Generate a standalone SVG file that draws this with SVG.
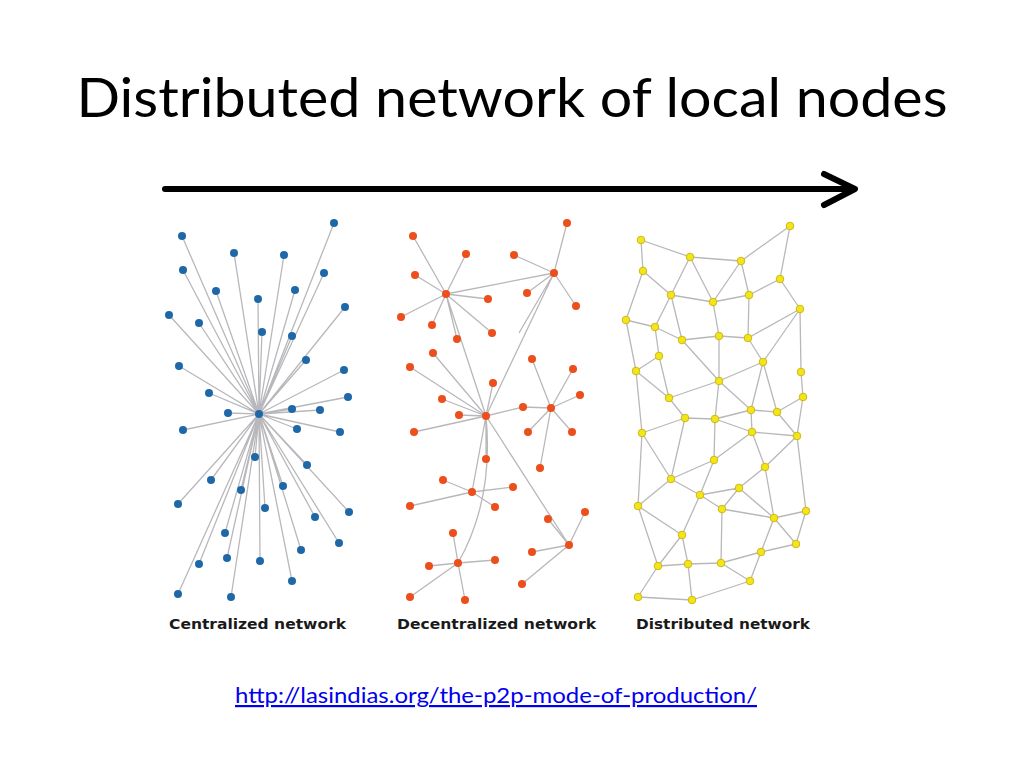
<svg xmlns="http://www.w3.org/2000/svg" width="1024" height="768" viewBox="0 0 1024 768">
<style>
.title{font-family:Lato,"Open Sans","Liberation Sans",sans-serif;font-size:54px;fill:#000}
.lbl{font-family:"DejaVu Sans",Verdana,sans-serif;font-size:13.5px;font-weight:bold;fill:#1a1a1a}
.url{font-family:Lato,"Open Sans","Liberation Sans",sans-serif;font-size:22px;fill:#0000ee;text-decoration:underline}
.e{stroke:#b8b8bc;stroke-width:1.3;fill:none}
.b{fill:#1f68a8}
.o{fill:#ec4e1c}
.y{fill:#f3e51c;stroke:#c9b30a;stroke-width:0.9}
</style>
<rect width="1024" height="768" fill="#fff"/>
<text class="title" x="512" y="117" text-anchor="middle" textLength="871" lengthAdjust="spacingAndGlyphs">Distributed network of local nodes</text>
<g id="progress-arrow" stroke="#000" stroke-width="6" fill="none" stroke-linecap="round" stroke-linejoin="round">
<line x1="165" y1="189" x2="853" y2="189"/>
<polyline points="824,174 855,189 824,205"/>
</g>
<g id="connectors">
<g id="central-edges" class="e">
<path d="M259,414L182,236M259,414L234,253M259,414L284,255M259,414L334,223M259,414L183,270M259,414L324,273M259,414L216,291M259,414L295,290M259,414L258,299M259,414L345,307M259,414L169,315M259,414L199,323M259,414L262,332M259,414L292,336M259,414L306,360M259,414L179,366M259,414L344,370M259,414L209,393M259,414L348,397M259,414L228,413M259,414L292,409M259,414L320,410M259,414L183,430M259,414L297,429M259,414L340,432M259,414L255,457M259,414L307,465M259,414L211,480M259,414L241,490M259,414L283,486M259,414L178,504M259,414L265,508M259,414L315,517M259,414L349,512M259,414L225,533M259,414L339,543M259,414L227,558M259,414L301,550M259,414L199,564M259,414L260,561M259,414L292,581M259,414L178,594M259,414L231,597"/>
</g>
<g id="decentral-edges" class="e">
<path d="M446,294L413,236M446,294L466,254M446,294L415,275M446,294L488,299M446,294L401,317M446,294L432,325M446,294L492,333M446,294L457,339M446,294L486,416M446,294L554,273"/>
<path d="M554,273L514,255M554,273L567,223M554,273L527,293M554,273L576,306M554,273L519,333M554,273L486,416"/>
<path d="M486,416L433,353M486,416L410,367M486,416L493,383M486,416L442,399M486,416L459,415M486,416L414,432M486,416L523,407L551,408M486,416L486,459M486,416L472,492M486,416L569,545M486,416Q494,500 458,563"/>
<path d="M551,408L532,359M551,408L573,369M551,408L580,395M551,408L528,432M551,408L572,432M551,408L540,468"/>
<path d="M472,492L443,480M472,492L513,487M472,492L410,506M472,492L495,507"/>
<path d="M569,545L548,519M569,545L585,512M569,545L532,552M569,545L522,584"/>
<path d="M458,563L453,533M458,563L429,566M458,563L495,560M458,563L410,597M458,563L465,600"/>
</g>
<g id="distributed-edges" class="e">
<path d="M641,240L690,257M641,240L643,271M690,257L741,261M690,257L671,295M690,257L713,302M741,261L713,302M741,261L749,295M741,261L790,226M790,226L780,279M643,271L671,295M643,271L626,320M780,279L749,295M780,279L800,309M671,295L713,302M671,295L655,327M671,295L682,340M713,302L749,295M713,302L719,336M749,295L748,338M626,320L655,327M626,320L636,371M655,327L682,340M655,327L659,356M682,340L719,336M682,340L719,381M719,336L748,338M719,336L719,381M748,338L800,309M748,338L763,362M800,309L763,362M800,309L801,372M659,356L636,371M659,356L669,398M636,371L669,398M636,371L642,433M763,362L719,381M763,362L751,410M763,362L777,412M801,372L803,397M719,381L669,398M719,381L715,419M719,381L751,410M669,398L685,418M803,397L777,412M803,397L797,436M751,410L777,412M751,410L752,432M777,412L797,436"/>
<path d="M685,418L715,419M715,419L751,410M715,419L752,432M715,419L714,460M752,432L797,436M752,432L714,460M752,432L765,467M642,433L685,418M642,433L671,479M685,418L671,479M714,460L671,479M714,460L700,495M671,479L700,495M671,479L638,506M700,495L739,488M700,495L722,509M700,495L682,535M739,488L765,467M739,488L722,509M739,488L774,518M765,467L797,436M765,467L774,518M797,436L806,511M722,509L774,518M722,509L721,563M774,518L806,511M774,518L796,544M774,518L761,552M806,511L796,544M796,544L761,552M761,552L750,581M761,552L721,563M721,563L750,581M721,563L688,564M688,564L658,566M688,564L682,535M688,564L692,600M658,566L682,535M658,566L638,506M658,566L638,597M638,506L682,535M638,506L642,433M638,597L692,600M692,600L750,581"/>
</g>
</g>
<g id="centralized-network">
<g id="c0"><circle class="b" cx="259" cy="414" r="4"/></g>
<g id="c1"><circle class="b" cx="182" cy="236" r="4"/></g>
<g id="c2"><circle class="b" cx="234" cy="253" r="4"/></g>
<g id="c3"><circle class="b" cx="284" cy="255" r="4"/></g>
<g id="c4"><circle class="b" cx="334" cy="223" r="4"/></g>
<g id="c5"><circle class="b" cx="183" cy="270" r="4"/></g>
<g id="c6"><circle class="b" cx="324" cy="273" r="4"/></g>
<g id="c7"><circle class="b" cx="216" cy="291" r="4"/></g>
<g id="c8"><circle class="b" cx="295" cy="290" r="4"/></g>
<g id="c9"><circle class="b" cx="258" cy="299" r="4"/></g>
<g id="c10"><circle class="b" cx="345" cy="307" r="4"/></g>
<g id="c11"><circle class="b" cx="169" cy="315" r="4"/></g>
<g id="c12"><circle class="b" cx="199" cy="323" r="4"/></g>
<g id="c13"><circle class="b" cx="262" cy="332" r="4"/></g>
<g id="c14"><circle class="b" cx="292" cy="336" r="4"/></g>
<g id="c15"><circle class="b" cx="306" cy="360" r="4"/></g>
<g id="c16"><circle class="b" cx="179" cy="366" r="4"/></g>
<g id="c17"><circle class="b" cx="344" cy="370" r="4"/></g>
<g id="c18"><circle class="b" cx="209" cy="393" r="4"/></g>
<g id="c19"><circle class="b" cx="348" cy="397" r="4"/></g>
<g id="c20"><circle class="b" cx="228" cy="413" r="4"/></g>
<g id="c21"><circle class="b" cx="292" cy="409" r="4"/></g>
<g id="c22"><circle class="b" cx="320" cy="410" r="4"/></g>
<g id="c23"><circle class="b" cx="183" cy="430" r="4"/></g>
<g id="c24"><circle class="b" cx="297" cy="429" r="4"/></g>
<g id="c25"><circle class="b" cx="340" cy="432" r="4"/></g>
<g id="c26"><circle class="b" cx="255" cy="457" r="4"/></g>
<g id="c27"><circle class="b" cx="307" cy="465" r="4"/></g>
<g id="c28"><circle class="b" cx="211" cy="480" r="4"/></g>
<g id="c29"><circle class="b" cx="241" cy="490" r="4"/></g>
<g id="c30"><circle class="b" cx="283" cy="486" r="4"/></g>
<g id="c31"><circle class="b" cx="178" cy="504" r="4"/></g>
<g id="c32"><circle class="b" cx="265" cy="508" r="4"/></g>
<g id="c33"><circle class="b" cx="315" cy="517" r="4"/></g>
<g id="c34"><circle class="b" cx="349" cy="512" r="4"/></g>
<g id="c35"><circle class="b" cx="225" cy="533" r="4"/></g>
<g id="c36"><circle class="b" cx="339" cy="543" r="4"/></g>
<g id="c37"><circle class="b" cx="227" cy="558" r="4"/></g>
<g id="c38"><circle class="b" cx="301" cy="550" r="4"/></g>
<g id="c39"><circle class="b" cx="199" cy="564" r="4"/></g>
<g id="c40"><circle class="b" cx="260" cy="561" r="4"/></g>
<g id="c41"><circle class="b" cx="292" cy="581" r="4"/></g>
<g id="c42"><circle class="b" cx="178" cy="594" r="4"/></g>
<g id="c43"><circle class="b" cx="231" cy="597" r="4"/></g>
</g>
<g id="decentralized-network">
<g id="dh1"><circle class="o" cx="446" cy="294" r="4"/></g>
<g id="dh2"><circle class="o" cx="554" cy="273" r="4"/></g>
<g id="dh3"><circle class="o" cx="486" cy="416" r="4"/></g>
<g id="dh4"><circle class="o" cx="551" cy="408" r="4"/></g>
<g id="dh5"><circle class="o" cx="472" cy="492" r="4"/></g>
<g id="dh6"><circle class="o" cx="569" cy="545" r="4"/></g>
<g id="dh7"><circle class="o" cx="458" cy="563" r="4"/></g>
<g id="d1"><circle class="o" cx="413" cy="236" r="4"/></g>
<g id="d2"><circle class="o" cx="466" cy="254" r="4"/></g>
<g id="d3"><circle class="o" cx="514" cy="255" r="4"/></g>
<g id="d4"><circle class="o" cx="567" cy="223" r="4"/></g>
<g id="d5"><circle class="o" cx="415" cy="275" r="4"/></g>
<g id="d6"><circle class="o" cx="488" cy="299" r="4"/></g>
<g id="d7"><circle class="o" cx="527" cy="293" r="4"/></g>
<g id="d8"><circle class="o" cx="576" cy="306" r="4"/></g>
<g id="d9"><circle class="o" cx="401" cy="317" r="4"/></g>
<g id="d10"><circle class="o" cx="432" cy="325" r="4"/></g>
<g id="d11"><circle class="o" cx="492" cy="333" r="4"/></g>
<g id="d12"><circle class="o" cx="457" cy="339" r="4"/></g>
<g id="d13"><circle class="o" cx="433" cy="353" r="4"/></g>
<g id="d14"><circle class="o" cx="410" cy="367" r="4"/></g>
<g id="d15"><circle class="o" cx="532" cy="359" r="4"/></g>
<g id="d16"><circle class="o" cx="573" cy="369" r="4"/></g>
<g id="d17"><circle class="o" cx="493" cy="383" r="4"/></g>
<g id="d18"><circle class="o" cx="442" cy="399" r="4"/></g>
<g id="d19"><circle class="o" cx="580" cy="395" r="4"/></g>
<g id="d20"><circle class="o" cx="459" cy="415" r="4"/></g>
<g id="d21"><circle class="o" cx="523" cy="407" r="4"/></g>
<g id="d22"><circle class="o" cx="414" cy="432" r="4"/></g>
<g id="d23"><circle class="o" cx="528" cy="432" r="4"/></g>
<g id="d24"><circle class="o" cx="572" cy="432" r="4"/></g>
<g id="d25"><circle class="o" cx="486" cy="459" r="4"/></g>
<g id="d26"><circle class="o" cx="540" cy="468" r="4"/></g>
<g id="d27"><circle class="o" cx="443" cy="480" r="4"/></g>
<g id="d28"><circle class="o" cx="513" cy="487" r="4"/></g>
<g id="d29"><circle class="o" cx="410" cy="506" r="4"/></g>
<g id="d30"><circle class="o" cx="495" cy="507" r="4"/></g>
<g id="d31"><circle class="o" cx="548" cy="519" r="4"/></g>
<g id="d32"><circle class="o" cx="585" cy="512" r="4"/></g>
<g id="d33"><circle class="o" cx="453" cy="533" r="4"/></g>
<g id="d34"><circle class="o" cx="532" cy="552" r="4"/></g>
<g id="d35"><circle class="o" cx="429" cy="566" r="4"/></g>
<g id="d36"><circle class="o" cx="495" cy="560" r="4"/></g>
<g id="d37"><circle class="o" cx="522" cy="584" r="4"/></g>
<g id="d38"><circle class="o" cx="410" cy="597" r="4"/></g>
<g id="d39"><circle class="o" cx="465" cy="600" r="4"/></g>
</g>
<g id="distributed-network">
<g id="a1"><circle class="y" cx="641" cy="240" r="3.8"/></g>
<g id="a2"><circle class="y" cx="690" cy="257" r="3.8"/></g>
<g id="a3"><circle class="y" cx="741" cy="261" r="3.8"/></g>
<g id="a4"><circle class="y" cx="790" cy="226" r="3.8"/></g>
<g id="a5"><circle class="y" cx="643" cy="271" r="3.8"/></g>
<g id="a6"><circle class="y" cx="780" cy="279" r="3.8"/></g>
<g id="a7"><circle class="y" cx="671" cy="295" r="3.8"/></g>
<g id="a8"><circle class="y" cx="713" cy="302" r="3.8"/></g>
<g id="a9"><circle class="y" cx="749" cy="295" r="3.8"/></g>
<g id="a10"><circle class="y" cx="800" cy="309" r="3.8"/></g>
<g id="a11"><circle class="y" cx="626" cy="320" r="3.8"/></g>
<g id="a12"><circle class="y" cx="655" cy="327" r="3.8"/></g>
<g id="a13"><circle class="y" cx="682" cy="340" r="3.8"/></g>
<g id="a14"><circle class="y" cx="719" cy="336" r="3.8"/></g>
<g id="a15"><circle class="y" cx="748" cy="338" r="3.8"/></g>
<g id="a16"><circle class="y" cx="659" cy="356" r="3.8"/></g>
<g id="a17"><circle class="y" cx="763" cy="362" r="3.8"/></g>
<g id="a18"><circle class="y" cx="636" cy="371" r="3.8"/></g>
<g id="a19"><circle class="y" cx="801" cy="372" r="3.8"/></g>
<g id="a20"><circle class="y" cx="719" cy="381" r="3.8"/></g>
<g id="a21"><circle class="y" cx="669" cy="398" r="3.8"/></g>
<g id="a22"><circle class="y" cx="803" cy="397" r="3.8"/></g>
<g id="a23"><circle class="y" cx="751" cy="410" r="3.8"/></g>
<g id="a24"><circle class="y" cx="777" cy="412" r="3.8"/></g>
<g id="a25"><circle class="y" cx="685" cy="418" r="3.8"/></g>
<g id="a26"><circle class="y" cx="715" cy="419" r="3.8"/></g>
<g id="a27"><circle class="y" cx="642" cy="433" r="3.8"/></g>
<g id="a28"><circle class="y" cx="752" cy="432" r="3.8"/></g>
<g id="a29"><circle class="y" cx="797" cy="436" r="3.8"/></g>
<g id="a30"><circle class="y" cx="714" cy="460" r="3.8"/></g>
<g id="a31"><circle class="y" cx="765" cy="467" r="3.8"/></g>
<g id="a32"><circle class="y" cx="671" cy="479" r="3.8"/></g>
<g id="a33"><circle class="y" cx="700" cy="495" r="3.8"/></g>
<g id="a34"><circle class="y" cx="739" cy="488" r="3.8"/></g>
<g id="a35"><circle class="y" cx="638" cy="506" r="3.8"/></g>
<g id="a36"><circle class="y" cx="722" cy="509" r="3.8"/></g>
<g id="a37"><circle class="y" cx="774" cy="518" r="3.8"/></g>
<g id="a38"><circle class="y" cx="806" cy="511" r="3.8"/></g>
<g id="a39"><circle class="y" cx="682" cy="535" r="3.8"/></g>
<g id="a40"><circle class="y" cx="796" cy="544" r="3.8"/></g>
<g id="a41"><circle class="y" cx="761" cy="552" r="3.8"/></g>
<g id="a42"><circle class="y" cx="658" cy="566" r="3.8"/></g>
<g id="a43"><circle class="y" cx="688" cy="564" r="3.8"/></g>
<g id="a44"><circle class="y" cx="721" cy="563" r="3.8"/></g>
<g id="a45"><circle class="y" cx="750" cy="581" r="3.8"/></g>
<g id="a46"><circle class="y" cx="638" cy="597" r="3.8"/></g>
<g id="a47"><circle class="y" cx="692" cy="600" r="3.8"/></g>
</g>
<text class="lbl" x="169" y="629" textLength="177" lengthAdjust="spacingAndGlyphs">Centralized network</text>
<text class="lbl" x="397" y="629" textLength="199" lengthAdjust="spacingAndGlyphs">Decentralized network</text>
<text class="lbl" x="636" y="629" textLength="174" lengthAdjust="spacingAndGlyphs">Distributed network</text>
<text class="url" x="235" y="703" textLength="522" lengthAdjust="spacingAndGlyphs">http://lasindias.org/the-p2p-mode-of-production/</text>
</svg>
